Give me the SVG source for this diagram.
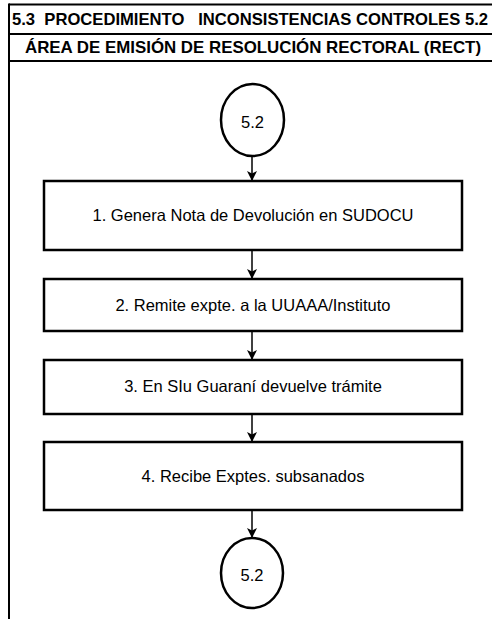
<svg xmlns="http://www.w3.org/2000/svg" width="492" height="619" viewBox="0 0 492 619">
<style>
.frame{fill:none;stroke:#000;stroke-width:2}
.box{fill:#fff;stroke:#000;stroke-width:2.5}
.term{fill:#fff;stroke:#000;stroke-width:2.5}
.hdr{font-family:"Liberation Sans",Arial,sans-serif;font-weight:bold;font-size:16.5px;fill:#000;white-space:pre}
.lbl{font-family:"Liberation Sans",Arial,sans-serif;font-size:16.5px;fill:#000;text-anchor:middle;dominant-baseline:central}
.conn{fill:none;stroke:#000;stroke-width:1.5}
</style>
<defs>
<marker id="arr" viewBox="0 0 10 10" refX="10" refY="5" markerWidth="10" markerHeight="10" markerUnits="userSpaceOnUse" orient="auto">
<path d="M0,0 L10,5 L0,10 L2.5,5 Z" fill="#000"/>
</marker>
</defs>
<g id="frame">
<line class="frame" x1="9" y1="4.5" x2="492" y2="4.5"/>
<line class="frame" x1="9" y1="34" x2="492" y2="34"/>
<line class="frame" x1="9" y1="61" x2="492" y2="61"/>
<line class="frame" x1="9" y1="3.5" x2="9" y2="619"/>
<text class="hdr" x="12" y="25" textLength="476" lengthAdjust="spacingAndGlyphs" xml:space="preserve">5.3  PROCEDIMIENTO   INCONSISTENCIAS CONTROLES 5.2</text>
<text class="hdr" x="25" y="53" textLength="456" lengthAdjust="spacingAndGlyphs">ÁREA DE EMISIÓN DE RESOLUCIÓN RECTORAL (RECT)</text>
</g>
<g id="connectors">
<line class="conn" x1="252" y1="156" x2="252" y2="181" marker-end="url(#arr)"/>
<line class="conn" x1="252" y1="250" x2="252" y2="279" marker-end="url(#arr)"/>
<line class="conn" x1="252" y1="331" x2="252" y2="360" marker-end="url(#arr)"/>
<line class="conn" x1="252" y1="414" x2="252" y2="442" marker-end="url(#arr)"/>
<line class="conn" x1="252" y1="510" x2="252" y2="538" marker-end="url(#arr)"/>
</g>
<g id="start">
<ellipse class="term" cx="252.5" cy="120" rx="31.5" ry="36"/>
<text class="lbl" x="252.5" y="122">5.2</text>
</g>
<g id="step1">
<rect class="box" x="44" y="181" width="418" height="69"/>
<text class="lbl" x="253" y="215">1. Genera Nota de Devolución en SUDOCU</text>
</g>
<g id="step2">
<rect class="box" x="44" y="279" width="418" height="52"/>
<text class="lbl" x="253" y="305">2. Remite expte. a la UUAAA/Instituto</text>
</g>
<g id="step3">
<rect class="box" x="44" y="360" width="418" height="54"/>
<text class="lbl" x="253" y="386">3. En SIu Guaraní devuelve trámite</text>
</g>
<g id="step4">
<rect class="box" x="44" y="442" width="418" height="68"/>
<text class="lbl" x="253" y="476">4. Recibe Exptes. subsanados</text>
</g>
<g id="end">
<ellipse class="term" cx="252" cy="573" rx="31" ry="35"/>
<text class="lbl" x="252" y="575">5.2</text>
</g>
</svg>
